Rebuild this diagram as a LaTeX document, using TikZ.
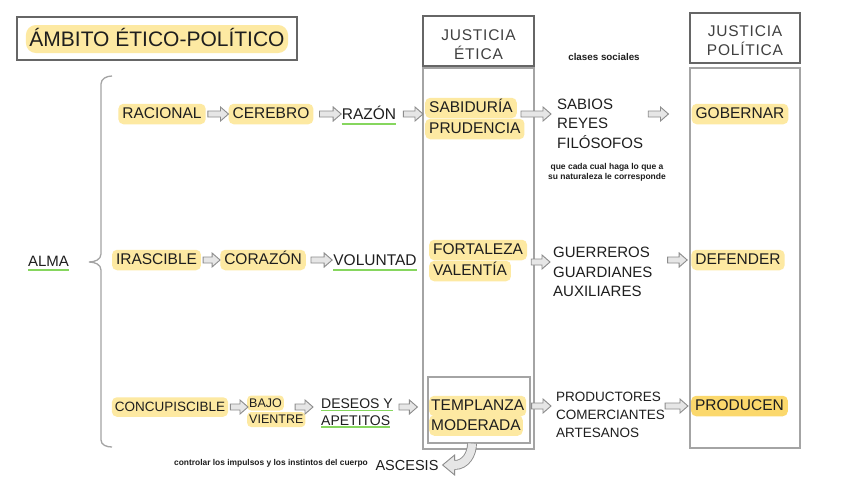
\documentclass[tikz,border=0pt]{standalone}
\usepackage{fontspec}
\setmainfont{Liberation Sans}
\usetikzlibrary{calc}
\definecolor{hl}{HTML}{FDE9A2}
\definecolor{hldark}{HTML}{FBD86C}
\definecolor{arrfill}{HTML}{E6E6E6}
\definecolor{arrline}{HTML}{8C8C8C}
\definecolor{ulc}{HTML}{86D65E}
\definecolor{boxline}{HTML}{666666}
\definecolor{colline}{HTML}{A4A4A4}
\definecolor{txt}{HTML}{1E1E1E}
\newcommand\fntT{\fontsize{21}{25}\selectfont}
\newcommand\fntA{\fontsize{15.5}{19.5}\selectfont}
\newcommand\fntH{\fontsize{15.5}{19}\selectfont\addfontfeatures{LetterSpace=5}}
\newcommand\fntB{\fontsize{15}{19.5}\selectfont}
\newcommand\fntC{\fontsize{13.5}{18}\selectfont}
\newcommand\fntE{\fontsize{14}{17}\selectfont}
\newcommand\fntD{\fontsize{12.5}{15}\selectfont}
\newcommand\fntS{\fontsize{8.5}{10}\selectfont\bfseries}
\tikzset{
  hlbox/.style={fill=hl, rounded corners=5pt, text=txt, inner xsep=4pt, inner ysep=3.5pt, text height=11.5pt, text depth=2pt, font=\fntA},
  hlsmall/.style={fill=hl, rounded corners=4pt, text=txt, inner xsep=2pt, inner ysep=2.5pt, text height=9pt, text depth=1pt, font=\fntD},
  plain/.style={inner sep=0pt, text=txt, text height=11pt, text depth=0pt, font=\fntA},
  mline/.style={inner sep=0pt, text=txt, align=left, font=\fntB},
  smalltxt/.style={inner sep=0pt, text=txt, align=center, font=\fntS},
  ulline/.style={draw=ulc, line width=1.2pt},
  headbox/.style={draw=boxline, line width=1.3pt, inner sep=0pt},
  headtxt/.style={inner sep=0pt, align=center, text=txt!85!white, font=\fntH},
  colbox/.style={draw=colline, line width=1.5pt, inner sep=0pt},
  blk/.style={draw=arrline, fill=arrfill, line width=0.9pt, line join=miter,
    to path={let \p1=(\tikztostart), \p2=(\tikztotarget) in
      (\x1,\y1+3pt) -- (\x2-8pt,\y1+3pt) -- (\x2-8pt,\y1+7pt) -- (\x2,\y1)
      -- (\x2-8pt,\y1-7pt) -- (\x2-8pt,\y1-3pt) -- (\x1,\y1-3pt) -- cycle}},
  brace/.style={draw=colline, line width=1.3pt},
}
\begin{document}
\begin{tikzpicture}[x=1pt,y=-1pt]
\useasboundingbox (0,0) rectangle (848,477);
\fill[white] (0,0) rectangle (848,477);

% title
\node[draw=boxline, line width=1.3pt, minimum width=280pt, minimum height=43pt, inner sep=0pt] (titlebox) at (157,38.5) {};
\node[fill=hl, rounded corners=10pt, inner xsep=3.5pt, inner ysep=6.5pt, text height=15pt, text depth=0pt, font=\fntT, text=txt] (title) at (157,39) {ÁMBITO ÉTICO-POLÍTICO};

% headings
\node[headbox, minimum width=111pt, minimum height=50pt] (jetbox) at (478.5,41) {};
\node[headtxt] (jet) at ($(jetbox.center)+(0,3.5)$) {JUSTICIA\\ÉTICA};
\node[headbox, minimum width=110pt, minimum height=50pt] (jpolbox) at (745,38) {};
\node[headtxt] (jpol) at ($(jpolbox.center)+(0,3)$) {JUSTICIA\\POLÍTICA};
\node[smalltxt, font=\fontsize{9.8}{11}\selectfont\bfseries] (clases) at (604,57) {clases sociales};

% columns
\node[colbox, minimum width=111pt, minimum height=381pt] (colE) at (478.5,258.5) {};
\node[colbox, minimum width=110pt, minimum height=380pt] (colP) at (745,258) {};
\node[draw=colline, line width=1.2pt, minimum width=102pt, minimum height=66pt, inner sep=0pt] (tbox) at (479,410) {};

% brace and ALMA
\draw[brace] (112,76) to[out=180,in=90] (101,84) -- (101,254) to[out=-90,in=0] (89,262)
  (89,262) to[out=0,in=90] (101,270) -- (101,440) to[out=-90,in=180] (112,447);
\node[plain, font=\fntB] (alma) at (48.5,261) {ALMA};
\draw[ulline] ([yshift=-3.5pt]alma.base west) -- ([yshift=-3.5pt]alma.base east);

% row 1
\node[hlbox] (rac) at (162,114) {RACIONAL};
\node[hlbox] (cer) at (271,114) {CEREBRO};
\node[plain] (raz) at (369,114) {RAZÓN};
\draw[ulline] ([yshift=-4.5pt]raz.base west) -- ([yshift=-4.5pt]raz.base east);
\node[hlbox, anchor=west] (sab1) at (425,108) {SABIDURÍA};
\node[hlbox, anchor=west] (sab2) at (425,129) {PRUDENCIA};
\node[mline, anchor=west] (sabios) at (557,123.7) {SABIOS\\REYES\\FILÓSOFOS};
\node[smalltxt] (qc) at (607,172) {que cada cual haga lo que a\\su naturaleza le corresponde};
\node[hlbox] (gob) at (740,114) {GOBERNAR};
\draw[blk] ([xshift=2pt]rac.east) to (cer.west);
\draw[blk] ([xshift=6pt]cer.east) to ([xshift=-0.5pt]raz.west);
\draw[blk] ([xshift=7pt]raz.east) to ([xshift=-2pt]sab1.west);
\draw[blk] ($(sab1.east |- gob)+(4,0)$) to ([xshift=-6pt]sabios.west);
\draw[blk] ($(sabios.east |- gob)+(5,0)$) to ([xshift=-23pt]gob.west);

% row 2
\node[hlbox] (ira) at (156.5,260) {IRASCIBLE};
\node[hlbox] (corz) at (263,260) {CORAZÓN};
\node[plain] (vol) at (375,260) {VOLUNTAD};
\draw[ulline] ([yshift=-4.5pt]vol.base west) -- ([yshift=-4.5pt]vol.base east);
\node[hlbox, anchor=west] (fort1) at (429,250) {FORTALEZA};
\node[hlbox, anchor=west] (fort2) at (429,271) {VALENTÍA};
\node[mline, anchor=west] (guer) at (553,272.3) {GUERREROS\\GUARDIANES\\AUXILIARES};
\node[hlbox] (def) at (738,260) {DEFENDER};
\draw[blk] ([xshift=2pt]ira.east) to (corz.west);
\draw[blk] ([xshift=5pt]corz.east) to ([xshift=-1pt]vol.west);
\draw[blk] ($(fort1.east |- def)+(4,2)$) to ([xshift=-3pt]guer.west);
\draw[blk] ($(guer.east |- def)+(15,0)$) to ([xshift=-4pt]def.west);

% row 3
\node[hlbox, font=\fntC, text height=10pt, text depth=1.5pt, inner ysep=4pt, inner xsep=3pt] (conc) at (170,407) {CONCUPISCIBLE};
\node[hlsmall, anchor=west] (bajo) at (247,403) {BAJO};
\node[hlsmall, anchor=west] (vien) at (247,419.5) {VIENTRE};
\node[plain, font=\fntE, text height=10pt, anchor=west] (des1) at (321,403) {DESEOS Y};
\node[plain, font=\fntE, text height=10pt, anchor=west] (des2) at (321,420) {APETITOS};
\draw[ulline] ([yshift=-2.5pt]des1.base west) -- ([yshift=-2.5pt]des1.base east);
\draw[ulline] ([yshift=-2pt]des2.base west) -- ([yshift=-2pt]des2.base east);
\node[hlbox, anchor=west, inner xsep=2pt] (tem1) at (429,406) {TEMPLANZA};
\node[hlbox, anchor=west, inner xsep=2pt] (tem2) at (429,425.5) {MODERADA};
\node[mline, font=\fntC, anchor=west] (prodc) at (556,415) {PRODUCTORES\\COMERCIANTES\\ARTESANOS};
\node[hlbox, fill=hldark] (prod) at (739.5,406) {PRODUCEN};
\draw[blk] ([xshift=2pt]conc.east) to ([xshift=1pt]bajo.west);
\draw[blk] ($(bajo.east |- conc)+(11,0)$) to ([xshift=-8pt]des1.west);
\draw[blk] ($(des1.east |- conc)+(6,0)$) to ([xshift=-10pt]tbox.west);
\draw[blk] ($(tbox.east |- prod)+(1,0)$) to ([xshift=-5pt]prodc.west);
\draw[blk] ($(prodc.east |- prod)+(0,0)$) to ([xshift=-3pt]prod.west);

% bottom
\node[plain, font=\fontsize{14.5}{17}\selectfont] (asc) at (407,465) {ASCESIS};
\node[smalltxt, font=\fontsize{8.4}{10}\selectfont\bfseries] (ctrl) at (271,463) {controlar los impulsos y los instintos del cuerpo};
\draw[draw=arrline, line width=0.9pt, double=arrfill, double distance=8pt]
  ($(tbox.south)+(-7,0)$) to[out=-90,in=0] ($(asc.east)+(16,0)$);
\fill[arrfill] ($(asc.east)+(4,0)$) -- ($(asc.east)+(16.5,-10)$) -- ($(asc.east)+(16.5,10)$) -- cycle;
\draw[draw=arrline, line width=0.9pt, line join=miter]
  ($(asc.east)+(16,-4.45)$) -- ($(asc.east)+(16,-10)$) -- ($(asc.east)+(4,0)$)
  -- ($(asc.east)+(16,10)$) -- ($(asc.east)+(16,4.45)$);
\end{tikzpicture}
\end{document}
